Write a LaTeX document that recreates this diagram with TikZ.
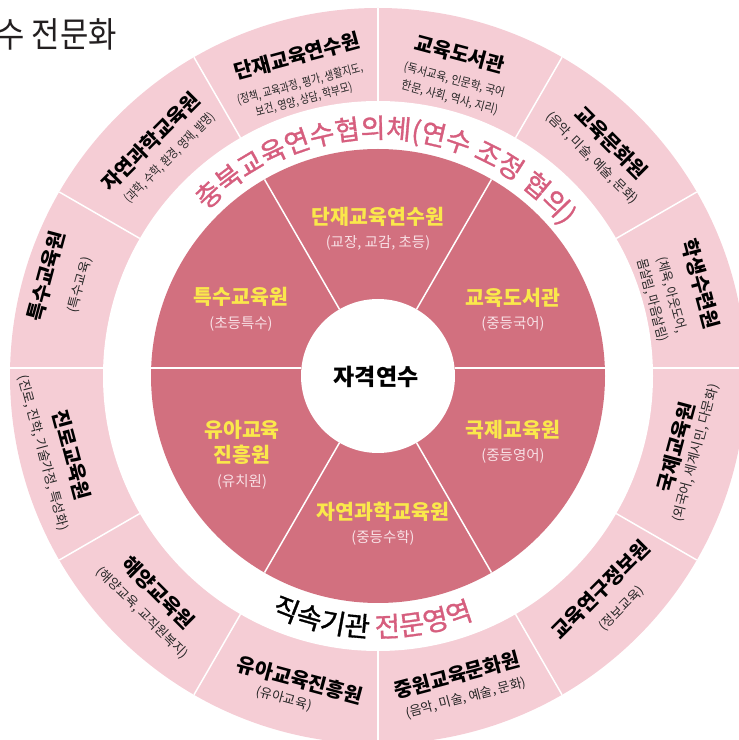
\documentclass[tikz,border=0pt]{standalone}
\usepackage{fontspec}
\usetikzlibrary{decorations.text}
\newfontfamily\kr{Noto Sans CJK KR}
\newfontfamily\krm{Noto Sans CJK KR}[FakeBold=1.2]
\newfontfamily\krA{Noto Sans CJK KR}[FakeStretch=0.82]
\newfontfamily\krB{Noto Sans CJK KR}[FakeStretch=0.9]
\newfontfamily\krT{Noto Sans CJK KR}[FakeStretch=0.88]
\definecolor{ringpink}{HTML}{F5CDD5}
\definecolor{darkpink}{HTML}{D2707F}
\definecolor{arcpink}{HTML}{D65E7E}
\definecolor{secyellow}{HTML}{FAE84B}
\definecolor{secsubc}{HTML}{F8E0E5}
\definecolor{titlegray}{HTML}{231F20}
\tikzset{
  ringtitle/.style={font={\kr\bfseries\fontsize{20}{20}\selectfont}, text=black, inner sep=0pt},
  ringsub/.style={font={\kr\fontsize{13}{19}\selectfont}, text=black!85, inner sep=0pt, align=center},
  sectitle/.style={font={\kr\bfseries\fontsize{20.5}{25}\selectfont}, text=secyellow, inner sep=0pt, align=center},
  secsub/.style={font={\kr\fontsize{14.5}{14.5}\selectfont}, text=secsubc, inner sep=0pt},
  divline/.style={white, line width=1.5pt},
}
\begin{document}
\begin{tikzpicture}[x=1pt,y=1pt]
\useasboundingbox (0,0) rectangle (739,740);
\begin{scope}[shift={(378,364)}]
  \fill[ringpink] (0,0) circle[radius=368];
  \fill[white] (0,0) circle[radius=275];
  \fill[darkpink] (0,0) circle[radius=227];
  \fill[white] (0,0) circle[radius=77];
  % ring dividers
  \foreach \a in {30,60,90,120,150,210,240,270,300,330}
    \draw[divline] (\a:275) -- (\a:368);
  \draw[divline] (-368,8) -- (-275,8);
  \draw[divline] (275,8) -- (368,8);
  % sector dividers
  \foreach \a in {60,120,240,300}
    \draw[divline] (\a:77) -- (\a:227);
  \draw[divline] (-227,8) -- (-76.6,8);
  \draw[divline] (76.6,8) -- (227,8);
  % arc texts
  \path[decorate, decoration={text along path, text align=center,
    text={|\krm\fontsize{27}{27}\selectfont\color{arcpink}|충북교육연수협의체(연수 조정 협의)}}]
    (150:238) arc[start angle=150, end angle=25, radius=238];
  \path[decorate, decoration={text along path, text align=center,
    text={|\krm\fontsize{27.5}{27.5}\selectfont\color{black}|직속기관 |\krm\fontsize{27.5}{27.5}\selectfont\color{arcpink}|전문영역}}]
    (240:261) arc[start angle=240, end angle=297.4, radius=261];
\end{scope}

% title top-left
\node[anchor=base east, inner sep=0pt, font={\krT\fontsize{35}{35}\selectfont}, text=titlegray] (ttl) at (117,692) {연수 전문화};

% center
\node[font={\kr\bfseries\fontsize{23}{23}\selectfont}, inner sep=0pt] (ctr) at (376,363) {자격연수};

% sector labels
\node[sectitle] (s1) at (378,523) {단재교육연수원};
\node[secsub] (s1s) at (378,497) {(교장, 교감, 초등)};
\node[sectitle] (s2) at (513,442) {교육도서관};
\node[secsub] (s2s) at (513,416) {(중등국어)};
\node[sectitle] (s3) at (241,443) {특수교육원};
\node[secsub] (s3s) at (241,416) {(초등특수)};
\node[sectitle] (s4) at (242,297.5) {유아교육\\진흥원};
\node[secsub] (s4s) at (242,258) {(유치원)};
\node[sectitle] (s5) at (513,310) {국제교육원};
\node[secsub] (s5s) at (513,284) {(중등영어)};
\node[sectitle] (s6) at (383,228) {자연과학교육원};
\node[secsub] (s6s) at (383,202) {(중등수학)};

% ring labels (top half)
\node[ringtitle, rotate=-75] (r1) at (701,456) {학생수련원};
\node[ringsub, rotate=-75, font={\krB\fontsize{13}{20}\selectfont}] (r1s) at (662,442.5) {(체육, 아웃도어,\\몸살림, 마음살림)};
\node[ringtitle, rotate=-45] (r2) at (611,597) {교육문화원};
\node[ringsub, rotate=-45] (r2s) at (592,582) {(음악, 미술, 예술, 문화)};
\node[ringtitle, rotate=-15] (r3) at (460,686) {교육도서관};
\node[ringsub, rotate=-15, font={\krB\fontsize{12}{18}\selectfont}] (r3s) at (452,651) {(독서교육, 인문학, 국어\\한문, 사회, 역사, 지리)};
\node[ringtitle, rotate=15] (r4) at (297,684) {단재교육연수원};
\node[ringsub, rotate=15, font={\krA\fontsize{12}{16}\selectfont}] (r4s) at (302,648) {(정책, 교육과정, 평가, 생활지도,\\보건, 영양, 상담, 학부모)};
\node[ringtitle, rotate=45] (r5) at (151,598) {자연과학교육원};
\node[ringsub, rotate=45, font={\krA\fontsize{12.5}{12.5}\selectfont}] (r5s) at (170,582) {(과학, 수학, 환경, 영재, 발명)};
\node[ringtitle, rotate=75] (r6) at (46,464) {특수교육원};
\node[ringsub, rotate=75] (r6s) at (80,455) {(특수교육)};
% ring labels (bottom half)
\node[ringtitle, rotate=-75] (r7) at (72,285) {진로교육원};
\node[ringsub, rotate=-75] (r7s) at (43,287) {(진로, 진학, 기술가정, 특성화)};
\node[ringtitle, rotate=-45] (r8) at (158,147) {해양교육원};
\node[ringsub, rotate=-45] (r8s) at (142,127) {(해양교육, 교직원복지)};
\node[ringtitle, rotate=-15] (r9) at (300,60) {유아교육진흥원};
\node[ringsub, rotate=-15] (r9s) at (284,41) {(유아교육)};
\node[ringtitle, rotate=15] (r10) at (457,65) {중원교육문화원};
\node[ringsub, rotate=15] (r10s) at (466,42) {(음악, 미술, 예술, 문화)};
\node[ringtitle, rotate=45] (r11) at (601,150) {교육연구정보원};
\node[ringsub, rotate=45] (r11s) at (622,131) {(정보교육)};
\node[ringtitle, rotate=75] (r12) at (676,293) {국제교육원};
\node[ringsub, rotate=75] (r12s) at (696,287) {(외국어, 세계시민, 다문화)};
\end{tikzpicture}
\end{document}
